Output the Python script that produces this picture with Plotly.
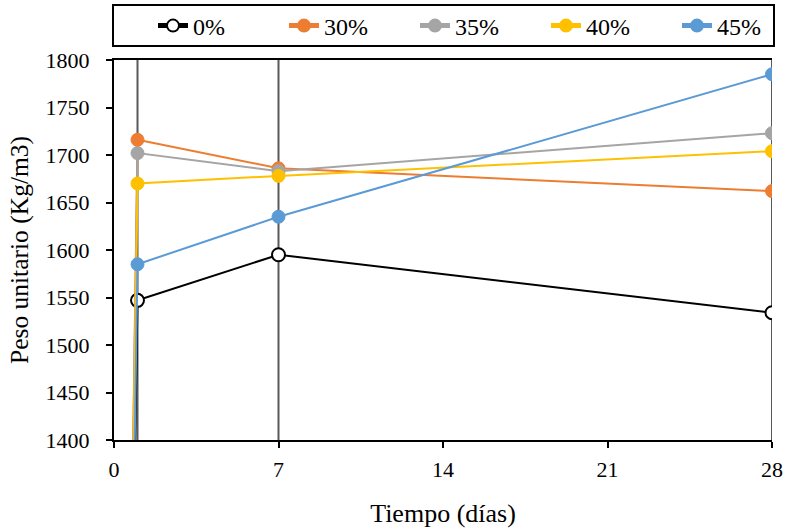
import plotly.graph_objects as go

days = [0, 1, 7, 28]
series_names = ["0%", "30%", "35%", "40%", "45%"]
v0 = [0, 1547, 1595, 1534]
v30 = [0, 1716, 1686, 1662]
v35 = [0, 1702, 1683, 1723]
v40 = [0, 1670, 1678, 1704]
v45 = [0, 1585, 1635, 1785]
colors = ["#000000", "#ED7D31", "#A5A5A5", "#FFC000", "#5B9BD5"]
drop_days = [1, 7, 28]
x_ticks = [0, 7, 14, 21, 28]

font = "Liberation Serif"
fig = go.Figure()
for name, vals, col in zip(series_names, [v0, v30, v35, v40, v45], colors):
    if name == "0%":
        marker = dict(size=13, color="white", line=dict(color="#000000", width=2))
    else:
        marker = dict(size=13, color=col, line=dict(color=col, width=1))
    fig.add_trace(go.Scatter(x=days, y=vals, name=name, mode="lines+markers",
                             line=dict(color=col, width=2), marker=marker))

for d in drop_days:
    fig.add_shape(type="line", x0=d, x1=d, y0=0, y1=1, xref="x", yref="paper",
                  line=dict(color="#595959", width=2), layer="below")

# legend frame (paper coords derived from plot area 114..772 x, 60..440 y)
W, H = 658.0, 380.0
fig.add_shape(type="rect", xref="paper", yref="paper",
              x0=(113 - 114) / W, x1=(774 - 114) / W,
              y0=1 + (60 - 46) / H, y1=1 + (60 - 5) / H,
              line=dict(color="black", width=2), fillcolor="rgba(0,0,0,0)")

tf = dict(family=font, size=22, color="black")
fig.update_layout(
    width=785, height=532,
    margin=dict(l=114, r=13, t=60, b=92, autoexpand=False),
    paper_bgcolor="white", plot_bgcolor="white",
    font=dict(family=font, size=22, color="black"),
    showlegend=True,
    legend=dict(orientation="h", x=(153 - 114) / W, xanchor="left",
                y=1 + (60 - 26) / H, yanchor="middle",
                bgcolor="rgba(0,0,0,0)", borderwidth=0,
                entrywidth=86, entrywidthmode="pixels",
                font=dict(size=24, family=font, color="black"), itemsizing="constant"),
    xaxis=dict(range=[0, 28], tickvals=x_ticks, showgrid=False, zeroline=False,
               showline=True, linecolor="black", linewidth=2, mirror=True,
               ticks="outside", tickcolor="black", ticklen=6, tickwidth=2,
               tickfont=tf, ticklabelstandoff=3,
               title=dict(text="Tiempo (días)", standoff=22, font=dict(size=26, family=font, color="black"))),
    yaxis=dict(range=[1400, 1800], dtick=50, showgrid=False, zeroline=False,
               showline=True, linecolor="black", linewidth=2,
               ticks="outside", tickcolor="black", ticklen=6, tickwidth=2,
               tickfont=tf, ticklabelstandoff=12,
               title=dict(text="Peso unitario (Kg/m3)", standoff=10, font=dict(size=25.5, family=font, color="black"))),
)
fig.write_html("out.html", config={"displayModeBar": False},
               post_script="document.body.style.margin='0';document.body.style.overflow='hidden';")
